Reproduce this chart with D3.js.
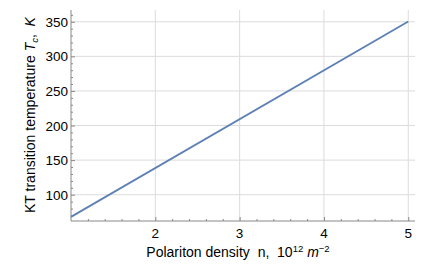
<!DOCTYPE html>
<html>
<head>
<meta charset="utf-8">
<script src="https://cdn.jsdelivr.net/npm/d3@7"></script>
<style>
  body { margin: 0; background: #fff; }
  svg { font-family: "Liberation Sans", Arial, sans-serif; }
  text { white-space: pre; }
</style>
</head>
<body>
<script>
const w = 436;
const h = 272;

// data
const density = [1, 5];
const temperature = [68, 350.5];
const xTicks = [2, 3, 4, 5];
const yTicks = [100, 150, 200, 250, 300, 350];

const plotLeft = 71, plotRight = 415, plotTop = 10, plotBottom = 221;

const xScale = d3.scaleLinear().domain([1, 5.08]).range([plotLeft, plotRight]);
const yScale = d3.scaleLinear().domain([62, 367]).range([plotBottom, plotTop]);

const svg = d3.select("body").append("svg")
  .attr("width", w)
  .attr("height", h);

// grid
svg.append("g").selectAll("line")
  .data(xTicks)
  .enter().append("line")
  .attr("x1", d => xScale(d)).attr("x2", d => xScale(d))
  .attr("y1", plotTop).attr("y2", plotBottom)
  .attr("stroke", "#dcdcdc").attr("stroke-width", 1);

svg.append("g").selectAll("line")
  .data(yTicks)
  .enter().append("line")
  .attr("x1", plotLeft).attr("x2", plotRight)
  .attr("y1", d => yScale(d)).attr("y2", d => yScale(d))
  .attr("stroke", "#dcdcdc").attr("stroke-width", 1);

// axes
const xMinor = d3.range(1.2, 5.05, 0.2).filter(v => Math.abs(v - Math.round(v)) > 0.01);
const yMinor = d3.range(70, 367, 10).filter(v => v % 50 !== 0);

const xAxis = d3.axisTop(xScale).tickValues(xTicks).tickSize(4).tickFormat("");
const xAxisMinor = d3.axisTop(xScale).tickValues(xMinor).tickSize(2).tickFormat("");
const yAxis = d3.axisRight(yScale).tickValues(yTicks).tickSize(4).tickFormat("");
const yAxisMinor = d3.axisRight(yScale).tickValues(yMinor).tickSize(2).tickFormat("");

const gx = svg.append("g").attr("transform", "translate(0," + plotBottom + ")");
gx.call(xAxis);
gx.append("g").call(xAxisMinor);
const gy = svg.append("g").attr("transform", "translate(" + plotLeft + ",0)");
gy.call(yAxis);
gy.append("g").call(yAxisMinor);

svg.selectAll(".domain").remove();
svg.selectAll(".tick line").attr("stroke", "#888");

svg.append("line")
  .attr("x1", plotLeft).attr("x2", plotRight)
  .attr("y1", plotBottom).attr("y2", plotBottom)
  .attr("stroke", "#888");
svg.append("line")
  .attr("x1", plotLeft).attr("x2", plotLeft)
  .attr("y1", plotTop).attr("y2", plotBottom)
  .attr("stroke", "#888");

// tick labels
svg.append("g").selectAll("text")
  .data(xTicks)
  .enter().append("text")
  .attr("x", d => xScale(d))
  .attr("y", plotBottom + 16.5)
  .attr("text-anchor", "middle")
  .attr("font-size", 13.5)
  .text(d => d);

svg.append("g").selectAll("text")
  .data(yTicks)
  .enter().append("text")
  .attr("x", plotLeft - 3)
  .attr("y", d => yScale(d) + 5)
  .attr("text-anchor", "end")
  .attr("font-size", 13.5)
  .text(d => d);

// series
const line = d3.line()
  .x((d, i) => xScale(density[i]))
  .y(d => yScale(d));

svg.append("path")
  .datum(temperature)
  .attr("d", line)
  .attr("fill", "none")
  .attr("stroke", "#5e81b5")
  .attr("stroke-width", 1.8);

// axis titles
const xl = svg.append("text")
  .attr("x", 238)
  .attr("y", 257)
  .attr("text-anchor", "middle")
  .attr("font-size", 14);
xl.append("tspan").text("Polariton density  n,  10");
xl.append("tspan").attr("font-size", 9.5).attr("dy", -5).text("12");
xl.append("tspan").attr("dy", 5).text(" ");
xl.append("tspan").attr("font-style", "italic").text("m");
xl.append("tspan").attr("font-size", 9.5).attr("dy", -5).text("\u22122");

const yl = svg.append("text")
  .attr("transform", "translate(35,115) rotate(-90)")
  .attr("text-anchor", "middle")
  .attr("font-size", 14);
yl.append("tspan").text("KT transition temperature ");
yl.append("tspan").attr("font-style", "italic").text("T");
yl.append("tspan").attr("font-style", "italic").attr("font-size", 9.5).attr("dy", 3).text("c");
yl.append("tspan").attr("dy", -3).text(",  ");
yl.append("tspan").attr("font-style", "italic").text("K");
</script>
</body>
</html>
